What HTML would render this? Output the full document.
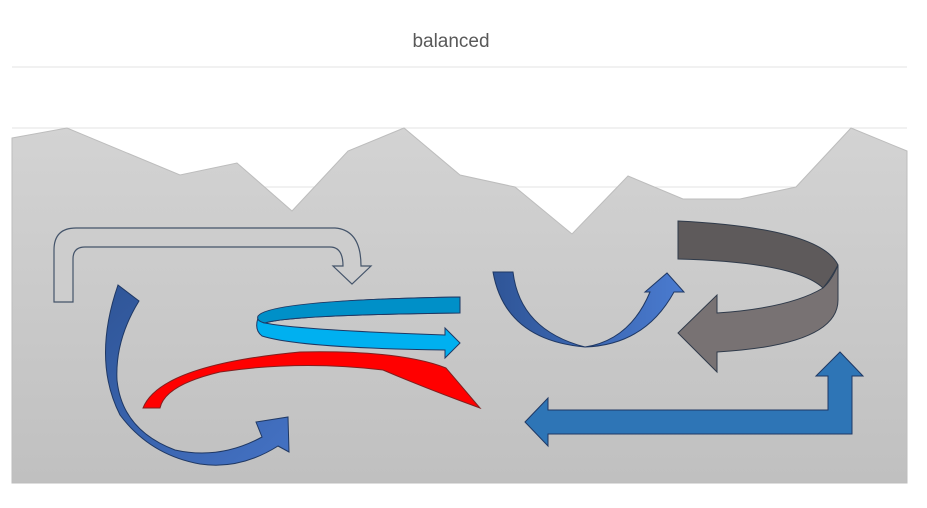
<!DOCTYPE html>
<html><head><style>
body{margin:0;background:#fff;width:927px;height:503px;overflow:hidden}
</style></head><body>
<svg width="927" height="503" viewBox="0 0 927 503" xmlns="http://www.w3.org/2000/svg">
<defs>
<linearGradient id="bg" x1="0" y1="0" x2="0" y2="1"><stop offset="0" stop-color="#d3d3d3"/><stop offset="1" stop-color="#c0c0c0"/></linearGradient>
<linearGradient id="bl" x1="0" y1="0" x2="1" y2="1"><stop offset="0" stop-color="#2f5597"/><stop offset="1" stop-color="#4472c4"/></linearGradient>
<linearGradient id="bl2" x1="0" y1="0" x2="1" y2="0"><stop offset="0" stop-color="#2f5597"/><stop offset="1" stop-color="#4a7bd0"/></linearGradient>
</defs>
<text x="451" y="47" text-anchor="middle" font-family="Liberation Sans, sans-serif" font-size="19" fill="#595959">balanced</text>
<line x1="12" y1="67" x2="907" y2="67" stroke="#e3e3e3"/>
<line x1="12" y1="128" x2="907" y2="128" stroke="#e3e3e3"/>
<line x1="12" y1="187" x2="907" y2="187" stroke="#e3e3e3"/>
<polygon points="12,138 67,128 180,175 237,163 292,211 348,151 404,128 460,175 515,187 572,234 628,176 683,199 740,199 796,187 851,128 907,151 907,483 12,483" fill="url(#bg)" stroke="#bdbdbd"/>
<!-- bent outline arrow -->
<path d="M54,302 L54,250 Q54,228 76,228 L335,228 Q361,230 361,266 L371,266 L352,284 L333,266 L343,266 Q343,247 330,247 L85,247 Q73,247 73,259 L73,302 Z" fill="#cdcdcd" stroke="#44546a" stroke-width="1.2"/>
<!-- blue curved arrow left -->
<path d="M118,285 L139,301 Q115,340 117,380 Q122,430 175,450 Q220,460 262,437 L256,422 L288,417 L289,452 L278,446 Q240,470 200,464 Q150,455 120,415 Q92,360 118,285 Z" fill="url(#bl)" stroke="#1f3864" stroke-width="1"/>
<!-- cyan ribbon -->
<path d="M460,297 L460,313 Q290,315 265,323 Q300,330 445,335 L445,328 L460,343 L445,358 L445,350 Q300,348 262,336 Q254,330 258,318 Q270,300 460,297 Z" fill="#00b0f0" stroke="#1f3864" stroke-width="1"/>
<path d="M460,297 L460,313 Q290,315 265,323 Q256,321 258,316 Q270,300 460,297 Z" fill="#0090c8" stroke="#1f3864" stroke-width="1"/>
<!-- red -->
<path d="M143,408 Q160,365 300,352 Q400,350 446,368 L480,408 Q430,390 383,370 Q300,360 220,372 Q165,385 160,408 Z" fill="#ff0000" stroke="#7f2020" stroke-width="1"/>
<!-- U arrow -->
<path d="M493,272 L513,272 Q520,330 585,347 Q630,340 650,292 L645,292 L667,273 L684,292 L674,292 Q645,345 585,347 Q505,340 493,272 Z" fill="url(#bl2)" stroke="#1f3864" stroke-width="1"/>
<!-- gray circular -->
<path d="M678,221 L678,259 Q795,262 823,288 Q830,280 838,265 Q820,228 678,221 Z" fill="#5e5a5b" stroke="#2f3a4a" stroke-width="1"/>
<path d="M823,288 Q790,308 717,313 L717,295 L678,333 L717,372 L717,352 Q838,345 838,300 L838,265 Q832,280 823,288 Z" fill="#787273" stroke="#2f3a4a" stroke-width="1"/>
<!-- blue bent arrow -->
<path d="M525,422 L548,398 L548,410 L828,410 L828,376 L816,376 L840,352 L863,376 L852,376 L852,434 L548,434 L548,446 Z" fill="#2e75b6" stroke="#1f3864" stroke-width="1"/>
</svg>
</body></html>
